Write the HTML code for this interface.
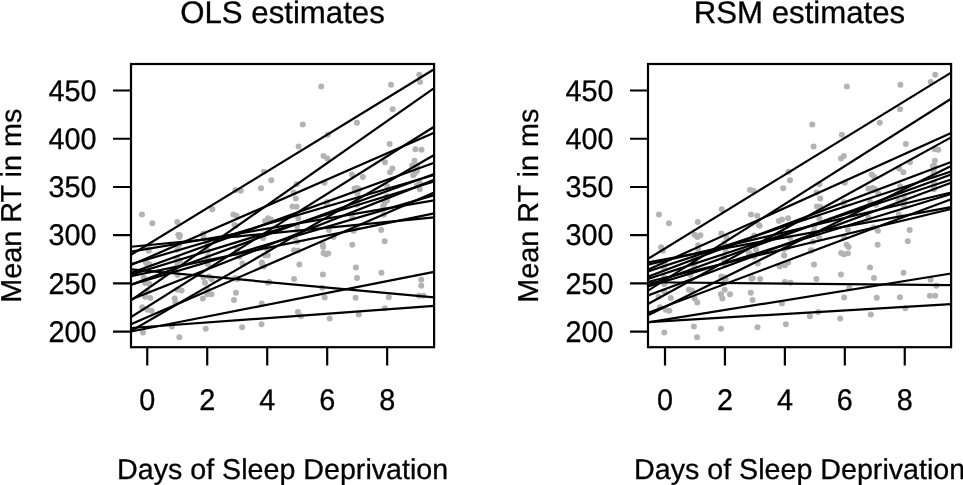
<!DOCTYPE html>
<html><head><meta charset="utf-8"><style>
html,body{margin:0;padding:0;background:#fff;width:963px;height:485px;overflow:hidden}
svg{display:block;font-family:"Liberation Sans",sans-serif;filter:grayscale(1)}
</style></head><body>
<svg width="963" height="485" viewBox="0 0 963 485" font-family="Liberation Sans, sans-serif" fill="#000" text-rendering="geometricPrecision"><style>text{stroke:#000;stroke-width:0.3px}</style><defs><clipPath id="clipL"><rect x="131.00" y="64.00" width="303.10" height="283.20"/></clipPath><clipPath id="clipR"><rect x="648.00" y="64.00" width="303.10" height="283.20"/></clipPath></defs>
<g fill="#b3b3b3">
<circle cx="149.49" cy="283.88" r="3"/>
<circle cx="177.62" cy="275.06" r="3"/>
<circle cx="205.03" cy="282.69" r="3"/>
<circle cx="233.29" cy="214.53" r="3"/>
<circle cx="271.24" cy="180.37" r="3"/>
<circle cx="302.76" cy="124.57" r="3"/>
<circle cx="323.52" cy="155.91" r="3"/>
<circle cx="352.26" cy="244.72" r="3"/>
<circle cx="392.64" cy="109.23" r="3"/>
<circle cx="419.22" cy="74.72" r="3"/>
<circle cx="147.30" cy="309.77" r="3"/>
<circle cx="171.84" cy="326.62" r="3"/>
<circle cx="205.75" cy="328.83" r="3"/>
<circle cx="242.06" cy="327.16" r="3"/>
<circle cx="261.51" cy="324.26" r="3"/>
<circle cx="301.02" cy="316.30" r="3"/>
<circle cx="329.67" cy="318.55" r="3"/>
<circle cx="358.76" cy="314.60" r="3"/>
<circle cx="384.73" cy="308.26" r="3"/>
<circle cx="419.07" cy="295.70" r="3"/>
<circle cx="142.99" cy="332.61" r="3"/>
<circle cx="179.36" cy="337.17" r="3"/>
<circle cx="202.88" cy="298.59" r="3"/>
<circle cx="233.97" cy="300.01" r="3"/>
<circle cx="261.75" cy="303.42" r="3"/>
<circle cx="297.91" cy="311.96" r="3"/>
<circle cx="324.69" cy="297.53" r="3"/>
<circle cx="357.02" cy="277.91" r="3"/>
<circle cx="381.41" cy="272.84" r="3"/>
<circle cx="421.25" cy="285.86" r="3"/>
<circle cx="141.97" cy="214.44" r="3"/>
<circle cx="178.34" cy="234.83" r="3"/>
<circle cx="208.03" cy="250.80" r="3"/>
<circle cx="237.18" cy="249.56" r="3"/>
<circle cx="267.14" cy="248.92" r="3"/>
<circle cx="294.73" cy="237.55" r="3"/>
<circle cx="325.83" cy="254.28" r="3"/>
<circle cx="352.26" cy="217.60" r="3"/>
<circle cx="381.14" cy="230.06" r="3"/>
<circle cx="419.97" cy="183.07" r="3"/>
<circle cx="147.30" cy="247.18" r="3"/>
<circle cx="177.26" cy="249.69" r="3"/>
<circle cx="203.30" cy="233.46" r="3"/>
<circle cx="236.46" cy="215.81" r="3"/>
<circle cx="270.80" cy="219.52" r="3"/>
<circle cx="297.10" cy="241.67" r="3"/>
<circle cx="322.87" cy="244.80" r="3"/>
<circle cx="357.02" cy="201.63" r="3"/>
<circle cx="384.73" cy="241.25" r="3"/>
<circle cx="416.94" cy="166.16" r="3"/>
<circle cx="150.21" cy="298.07" r="3"/>
<circle cx="181.66" cy="290.40" r="3"/>
<circle cx="207.22" cy="261.31" r="3"/>
<circle cx="235.89" cy="225.80" r="3"/>
<circle cx="267.92" cy="218.37" r="3"/>
<circle cx="297.10" cy="225.57" r="3"/>
<circle cx="321.22" cy="86.48" r="3"/>
<circle cx="357.02" cy="190.04" r="3"/>
<circle cx="383.29" cy="205.99" r="3"/>
<circle cx="421.25" cy="279.73" r="3"/>
<circle cx="148.77" cy="250.81" r="3"/>
<circle cx="179.06" cy="245.30" r="3"/>
<circle cx="207.22" cy="257.63" r="3"/>
<circle cx="237.18" cy="235.40" r="3"/>
<circle cx="263.22" cy="237.95" r="3"/>
<circle cx="295.78" cy="198.40" r="3"/>
<circle cx="327.06" cy="204.32" r="3"/>
<circle cx="357.02" cy="188.10" r="3"/>
<circle cx="384.64" cy="203.03" r="3"/>
<circle cx="413.19" cy="175.36" r="3"/>
<circle cx="147.30" cy="268.53" r="3"/>
<circle cx="177.26" cy="258.18" r="3"/>
<circle cx="207.22" cy="289.86" r="3"/>
<circle cx="237.18" cy="278.95" r="3"/>
<circle cx="265.22" cy="255.46" r="3"/>
<circle cx="298.06" cy="250.47" r="3"/>
<circle cx="328.92" cy="229.89" r="3"/>
<circle cx="357.02" cy="204.81" r="3"/>
<circle cx="386.20" cy="200.73" r="3"/>
<circle cx="414.57" cy="160.64" r="3"/>
<circle cx="147.30" cy="291.56" r="3"/>
<circle cx="177.26" cy="260.36" r="3"/>
<circle cx="211.53" cy="279.13" r="3"/>
<circle cx="242.42" cy="263.39" r="3"/>
<circle cx="269.24" cy="282.06" r="3"/>
<circle cx="294.04" cy="278.99" r="3"/>
<circle cx="322.21" cy="287.85" r="3"/>
<circle cx="355.58" cy="297.63" r="3"/>
<circle cx="388.78" cy="297.20" r="3"/>
<circle cx="423.41" cy="295.76" r="3"/>
<circle cx="152.36" cy="223.29" r="3"/>
<circle cx="177.32" cy="221.90" r="3"/>
<circle cx="207.22" cy="243.31" r="3"/>
<circle cx="240.81" cy="190.72" r="3"/>
<circle cx="263.87" cy="171.80" r="3"/>
<circle cx="298.60" cy="146.61" r="3"/>
<circle cx="327.84" cy="134.63" r="3"/>
<circle cx="356.93" cy="122.64" r="3"/>
<circle cx="390.99" cy="84.84" r="3"/>
<circle cx="420.06" cy="81.90" r="3"/>
<circle cx="145.14" cy="296.87" r="3"/>
<circle cx="175.46" cy="302.45" r="3"/>
<circle cx="211.53" cy="294.14" r="3"/>
<circle cx="237.18" cy="278.71" r="3"/>
<circle cx="267.92" cy="282.77" r="3"/>
<circle cx="299.41" cy="264.38" r="3"/>
<circle cx="323.55" cy="253.01" r="3"/>
<circle cx="357.02" cy="227.40" r="3"/>
<circle cx="386.98" cy="200.22" r="3"/>
<circle cx="416.94" cy="185.39" r="3"/>
<circle cx="143.70" cy="277.38" r="3"/>
<circle cx="177.62" cy="289.78" r="3"/>
<circle cx="203.42" cy="277.47" r="3"/>
<circle cx="235.35" cy="278.13" r="3"/>
<circle cx="262.56" cy="265.21" r="3"/>
<circle cx="292.46" cy="206.54" r="3"/>
<circle cx="327.36" cy="158.57" r="3"/>
<circle cx="351.96" cy="174.52" r="3"/>
<circle cx="389.65" cy="144.06" r="3"/>
<circle cx="415.41" cy="149.30" r="3"/>
<circle cx="145.14" cy="282.95" r="3"/>
<circle cx="179.78" cy="235.16" r="3"/>
<circle cx="207.91" cy="264.27" r="3"/>
<circle cx="237.18" cy="253.95" r="3"/>
<circle cx="261.87" cy="262.40" r="3"/>
<circle cx="297.10" cy="230.75" r="3"/>
<circle cx="323.14" cy="247.04" r="3"/>
<circle cx="355.88" cy="267.45" r="3"/>
<circle cx="384.01" cy="214.44" r="3"/>
<circle cx="419.76" cy="189.33" r="3"/>
<circle cx="151.64" cy="310.79" r="3"/>
<circle cx="179.36" cy="236.96" r="3"/>
<circle cx="212.37" cy="209.29" r="3"/>
<circle cx="235.44" cy="190.01" r="3"/>
<circle cx="261.00" cy="188.20" r="3"/>
<circle cx="296.62" cy="184.25" r="3"/>
<circle cx="324.51" cy="182.71" r="3"/>
<circle cx="362.83" cy="176.91" r="3"/>
<circle cx="385.00" cy="162.24" r="3"/>
<circle cx="421.55" cy="149.79" r="3"/>
<circle cx="145.86" cy="262.31" r="3"/>
<circle cx="177.26" cy="265.67" r="3"/>
<circle cx="209.08" cy="276.47" r="3"/>
<circle cx="239.49" cy="256.78" r="3"/>
<circle cx="265.04" cy="220.92" r="3"/>
<circle cx="298.27" cy="218.61" r="3"/>
<circle cx="333.59" cy="237.02" r="3"/>
<circle cx="354.53" cy="188.79" r="3"/>
<circle cx="386.98" cy="196.36" r="3"/>
<circle cx="416.94" cy="171.05" r="3"/>
<circle cx="142.27" cy="307.33" r="3"/>
<circle cx="174.74" cy="298.39" r="3"/>
<circle cx="207.22" cy="294.17" r="3"/>
<circle cx="235.95" cy="292.65" r="3"/>
<circle cx="263.87" cy="266.54" r="3"/>
<circle cx="293.62" cy="192.58" r="3"/>
<circle cx="328.23" cy="253.41" r="3"/>
<circle cx="359.00" cy="189.31" r="3"/>
<circle cx="390.07" cy="172.35" r="3"/>
<circle cx="412.18" cy="165.53" r="3"/>
<circle cx="149.49" cy="264.28" r="3"/>
<circle cx="177.26" cy="261.81" r="3"/>
<circle cx="207.91" cy="256.54" r="3"/>
<circle cx="237.18" cy="252.79" r="3"/>
<circle cx="267.92" cy="255.32" r="3"/>
<circle cx="294.04" cy="250.16" r="3"/>
<circle cx="322.87" cy="274.52" r="3"/>
<circle cx="353.69" cy="230.75" r="3"/>
<circle cx="387.25" cy="186.23" r="3"/>
<circle cx="416.94" cy="168.20" r="3"/>
<circle cx="147.30" cy="264.73" r="3"/>
<circle cx="179.78" cy="260.81" r="3"/>
<circle cx="203.59" cy="237.54" r="3"/>
<circle cx="234.45" cy="224.96" r="3"/>
<circle cx="267.14" cy="247.60" r="3"/>
<circle cx="296.62" cy="206.65" r="3"/>
<circle cx="327.06" cy="201.95" r="3"/>
<circle cx="357.44" cy="193.52" r="3"/>
<circle cx="392.43" cy="168.51" r="3"/>
<circle cx="414.75" cy="173.35" r="3"/>
</g>
<g stroke="#000" stroke-width="2.2" clip-path="url(#clipL)">
<line x1="131.00" y1="300.44" x2="434.10" y2="88.21"/>
<line x1="131.00" y1="328.01" x2="434.10" y2="305.95"/>
<line x1="131.00" y1="331.54" x2="434.10" y2="271.91"/>
<line x1="131.00" y1="246.74" x2="434.10" y2="217.41"/>
<line x1="131.00" y1="251.73" x2="434.10" y2="200.38"/>
<line x1="131.00" y1="274.71" x2="434.10" y2="181.43"/>
<line x1="131.00" y1="264.10" x2="434.10" y2="174.96"/>
<line x1="131.00" y1="299.36" x2="434.10" y2="179.88"/>
<line x1="131.00" y1="269.38" x2="434.10" y2="297.47"/>
<line x1="131.00" y1="254.71" x2="434.10" y2="69.19"/>
<line x1="131.00" y1="324.17" x2="434.10" y2="192.60"/>
<line x1="131.00" y1="316.97" x2="434.10" y2="126.79"/>
<line x1="131.00" y1="276.07" x2="434.10" y2="213.34"/>
<line x1="131.00" y1="265.11" x2="434.10" y2="132.82"/>
<line x1="131.00" y1="284.60" x2="434.10" y2="173.94"/>
<line x1="131.00" y1="331.06" x2="434.10" y2="154.99"/>
<line x1="131.00" y1="284.76" x2="434.10" y2="195.16"/>
<line x1="131.00" y1="272.92" x2="434.10" y2="162.75"/>
</g>
<rect x="131.00" y="64.00" width="303.10" height="283.20" fill="none" stroke="#000" stroke-width="2.2"/>
<path d="M131.00 331.70H113.00M131.00 283.46H113.00M131.00 235.22H113.00M131.00 186.98H113.00M131.00 138.74H113.00M131.00 90.50H113.00M147.25 347.20V365.60M207.23 347.20V365.60M267.21 347.20V365.60M327.19 347.20V365.60M387.17 347.20V365.60" stroke="#000" stroke-width="2.2" fill="none"/>
<text transform="translate(282.50 22.55) scale(1 1.000)" text-anchor="middle" font-size="31.20">OLS estimates</text>
<text transform="translate(96.50 341.75) scale(1 1.040)" text-anchor="end" font-size="28.80">200</text>
<text transform="translate(96.50 293.51) scale(1 1.040)" text-anchor="end" font-size="28.80">250</text>
<text transform="translate(96.50 245.27) scale(1 1.040)" text-anchor="end" font-size="28.80">300</text>
<text transform="translate(96.50 197.03) scale(1 1.040)" text-anchor="end" font-size="28.80">350</text>
<text transform="translate(96.50 148.79) scale(1 1.040)" text-anchor="end" font-size="28.80">400</text>
<text transform="translate(96.50 100.55) scale(1 1.040)" text-anchor="end" font-size="28.80">450</text>
<text transform="translate(147.25 410.30) scale(1 1.040)" text-anchor="middle" font-size="28.80">0</text>
<text transform="translate(207.23 410.30) scale(1 1.040)" text-anchor="middle" font-size="28.80">2</text>
<text transform="translate(267.21 410.30) scale(1 1.040)" text-anchor="middle" font-size="28.80">4</text>
<text transform="translate(327.19 410.30) scale(1 1.040)" text-anchor="middle" font-size="28.80">6</text>
<text transform="translate(387.17 410.30) scale(1 1.040)" text-anchor="middle" font-size="28.80">8</text>
<text transform="translate(282.60 478.70) scale(1 1.000)" text-anchor="middle" font-size="28.65">Days of Sleep Deprivation</text>
<text transform="translate(20.90 205.70) rotate(-90) scale(1 1.000)" text-anchor="middle" font-size="28.80">Mean RT in ms</text>
<g fill="#b3b3b3">
<circle cx="664.30" cy="283.88" r="3"/>
<circle cx="690.28" cy="275.06" r="3"/>
<circle cx="724.22" cy="282.69" r="3"/>
<circle cx="751.00" cy="214.53" r="3"/>
<circle cx="789.98" cy="180.37" r="3"/>
<circle cx="812.27" cy="124.57" r="3"/>
<circle cx="843.85" cy="155.91" r="3"/>
<circle cx="877.65" cy="244.72" r="3"/>
<circle cx="900.03" cy="109.23" r="3"/>
<circle cx="935.23" cy="74.72" r="3"/>
<circle cx="665.77" cy="309.77" r="3"/>
<circle cx="693.90" cy="326.62" r="3"/>
<circle cx="721.01" cy="328.83" r="3"/>
<circle cx="757.57" cy="327.16" r="3"/>
<circle cx="785.88" cy="324.26" r="3"/>
<circle cx="809.91" cy="316.30" r="3"/>
<circle cx="840.20" cy="318.55" r="3"/>
<circle cx="870.84" cy="314.60" r="3"/>
<circle cx="905.33" cy="308.26" r="3"/>
<circle cx="929.87" cy="295.70" r="3"/>
<circle cx="664.33" cy="332.61" r="3"/>
<circle cx="697.08" cy="337.17" r="3"/>
<circle cx="722.33" cy="298.59" r="3"/>
<circle cx="752.59" cy="300.01" r="3"/>
<circle cx="781.86" cy="303.42" r="3"/>
<circle cx="818.26" cy="311.96" r="3"/>
<circle cx="844.18" cy="297.53" r="3"/>
<circle cx="874.02" cy="277.91" r="3"/>
<circle cx="903.47" cy="272.84" r="3"/>
<circle cx="936.37" cy="285.86" r="3"/>
<circle cx="658.97" cy="214.44" r="3"/>
<circle cx="694.62" cy="234.83" r="3"/>
<circle cx="725.66" cy="250.80" r="3"/>
<circle cx="756.07" cy="249.56" r="3"/>
<circle cx="784.14" cy="248.92" r="3"/>
<circle cx="819.10" cy="237.55" r="3"/>
<circle cx="843.91" cy="254.28" r="3"/>
<circle cx="868.54" cy="217.60" r="3"/>
<circle cx="909.67" cy="230.06" r="3"/>
<circle cx="933.94" cy="183.07" r="3"/>
<circle cx="661.15" cy="247.18" r="3"/>
<circle cx="698.21" cy="249.69" r="3"/>
<circle cx="721.31" cy="233.46" r="3"/>
<circle cx="757.21" cy="215.81" r="3"/>
<circle cx="782.04" cy="219.52" r="3"/>
<circle cx="813.05" cy="241.67" r="3"/>
<circle cx="846.58" cy="244.80" r="3"/>
<circle cx="870.10" cy="201.63" r="3"/>
<circle cx="907.78" cy="241.25" r="3"/>
<circle cx="932.98" cy="166.16" r="3"/>
<circle cx="670.80" cy="298.07" r="3"/>
<circle cx="692.01" cy="290.40" r="3"/>
<circle cx="724.22" cy="261.31" r="3"/>
<circle cx="759.66" cy="225.80" r="3"/>
<circle cx="788.09" cy="218.37" r="3"/>
<circle cx="814.10" cy="225.57" r="3"/>
<circle cx="846.85" cy="86.48" r="3"/>
<circle cx="874.02" cy="190.04" r="3"/>
<circle cx="903.98" cy="205.99" r="3"/>
<circle cx="930.58" cy="279.73" r="3"/>
<circle cx="662.86" cy="250.81" r="3"/>
<circle cx="698.21" cy="245.30" r="3"/>
<circle cx="724.22" cy="257.63" r="3"/>
<circle cx="754.18" cy="235.40" r="3"/>
<circle cx="790.28" cy="237.95" r="3"/>
<circle cx="820.27" cy="198.40" r="3"/>
<circle cx="844.06" cy="204.32" r="3"/>
<circle cx="872.61" cy="188.10" r="3"/>
<circle cx="903.98" cy="203.03" r="3"/>
<circle cx="933.94" cy="175.36" r="3"/>
<circle cx="664.30" cy="268.53" r="3"/>
<circle cx="694.26" cy="258.18" r="3"/>
<circle cx="724.64" cy="289.86" r="3"/>
<circle cx="760.11" cy="278.95" r="3"/>
<circle cx="784.14" cy="255.46" r="3"/>
<circle cx="811.04" cy="250.47" r="3"/>
<circle cx="847.92" cy="229.89" r="3"/>
<circle cx="875.91" cy="204.81" r="3"/>
<circle cx="898.35" cy="200.73" r="3"/>
<circle cx="934.90" cy="160.64" r="3"/>
<circle cx="664.30" cy="291.56" r="3"/>
<circle cx="694.26" cy="260.36" r="3"/>
<circle cx="725.66" cy="279.13" r="3"/>
<circle cx="757.84" cy="263.39" r="3"/>
<circle cx="784.92" cy="282.06" r="3"/>
<circle cx="816.41" cy="278.99" r="3"/>
<circle cx="849.27" cy="287.85" r="3"/>
<circle cx="876.78" cy="297.63" r="3"/>
<circle cx="899.85" cy="297.20" r="3"/>
<circle cx="935.20" cy="295.76" r="3"/>
<circle cx="668.94" cy="223.29" r="3"/>
<circle cx="697.80" cy="221.90" r="3"/>
<circle cx="724.22" cy="243.31" r="3"/>
<circle cx="753.46" cy="190.72" r="3"/>
<circle cx="788.54" cy="171.80" r="3"/>
<circle cx="813.62" cy="146.61" r="3"/>
<circle cx="841.87" cy="134.63" r="3"/>
<circle cx="879.74" cy="122.64" r="3"/>
<circle cx="900.35" cy="84.84" r="3"/>
<circle cx="930.73" cy="81.90" r="3"/>
<circle cx="658.55" cy="296.87" r="3"/>
<circle cx="697.23" cy="302.45" r="3"/>
<circle cx="720.89" cy="294.14" r="3"/>
<circle cx="751.39" cy="278.71" r="3"/>
<circle cx="790.52" cy="282.77" r="3"/>
<circle cx="814.01" cy="264.38" r="3"/>
<circle cx="841.21" cy="253.01" r="3"/>
<circle cx="873.60" cy="227.40" r="3"/>
<circle cx="904.16" cy="200.22" r="3"/>
<circle cx="933.94" cy="185.39" r="3"/>
<circle cx="664.30" cy="277.38" r="3"/>
<circle cx="688.84" cy="289.78" r="3"/>
<circle cx="724.22" cy="277.47" r="3"/>
<circle cx="752.71" cy="278.13" r="3"/>
<circle cx="784.92" cy="265.21" r="3"/>
<circle cx="816.95" cy="206.54" r="3"/>
<circle cx="841.03" cy="158.57" r="3"/>
<circle cx="871.77" cy="174.52" r="3"/>
<circle cx="905.84" cy="144.06" r="3"/>
<circle cx="934.90" cy="149.30" r="3"/>
<circle cx="664.30" cy="282.95" r="3"/>
<circle cx="700.40" cy="235.16" r="3"/>
<circle cx="724.22" cy="264.27" r="3"/>
<circle cx="750.05" cy="253.95" r="3"/>
<circle cx="788.24" cy="262.40" r="3"/>
<circle cx="814.10" cy="230.75" r="3"/>
<circle cx="848.58" cy="247.04" r="3"/>
<circle cx="869.98" cy="267.45" r="3"/>
<circle cx="898.86" cy="214.44" r="3"/>
<circle cx="933.94" cy="189.33" r="3"/>
<circle cx="669.36" cy="310.79" r="3"/>
<circle cx="697.23" cy="236.96" r="3"/>
<circle cx="721.73" cy="209.29" r="3"/>
<circle cx="750.02" cy="190.01" r="3"/>
<circle cx="783.18" cy="188.20" r="3"/>
<circle cx="819.43" cy="184.25" r="3"/>
<circle cx="844.84" cy="182.71" r="3"/>
<circle cx="874.26" cy="176.91" r="3"/>
<circle cx="909.97" cy="162.24" r="3"/>
<circle cx="938.22" cy="149.79" r="3"/>
<circle cx="664.30" cy="262.31" r="3"/>
<circle cx="694.26" cy="265.67" r="3"/>
<circle cx="721.31" cy="276.47" r="3"/>
<circle cx="754.18" cy="256.78" r="3"/>
<circle cx="778.87" cy="220.92" r="3"/>
<circle cx="819.43" cy="218.61" r="3"/>
<circle cx="844.06" cy="237.02" r="3"/>
<circle cx="868.45" cy="188.79" r="3"/>
<circle cx="903.98" cy="196.36" r="3"/>
<circle cx="933.49" cy="171.05" r="3"/>
<circle cx="659.99" cy="307.33" r="3"/>
<circle cx="694.62" cy="298.39" r="3"/>
<circle cx="729.97" cy="294.17" r="3"/>
<circle cx="750.73" cy="292.65" r="3"/>
<circle cx="779.56" cy="266.54" r="3"/>
<circle cx="816.62" cy="192.58" r="3"/>
<circle cx="847.92" cy="253.41" r="3"/>
<circle cx="875.10" cy="189.31" r="3"/>
<circle cx="903.32" cy="172.35" r="3"/>
<circle cx="934.06" cy="165.53" r="3"/>
<circle cx="664.30" cy="264.28" r="3"/>
<circle cx="694.26" cy="261.81" r="3"/>
<circle cx="724.22" cy="256.54" r="3"/>
<circle cx="748.70" cy="252.79" r="3"/>
<circle cx="784.23" cy="255.32" r="3"/>
<circle cx="811.04" cy="250.16" r="3"/>
<circle cx="840.94" cy="274.52" r="3"/>
<circle cx="877.91" cy="230.75" r="3"/>
<circle cx="900.03" cy="186.23" r="3"/>
<circle cx="933.94" cy="168.20" r="3"/>
<circle cx="664.30" cy="264.73" r="3"/>
<circle cx="694.26" cy="260.81" r="3"/>
<circle cx="726.38" cy="237.54" r="3"/>
<circle cx="758.94" cy="224.96" r="3"/>
<circle cx="787.59" cy="247.60" r="3"/>
<circle cx="820.27" cy="206.65" r="3"/>
<circle cx="844.06" cy="201.95" r="3"/>
<circle cx="878.42" cy="193.52" r="3"/>
<circle cx="899.19" cy="168.51" r="3"/>
<circle cx="933.94" cy="173.35" r="3"/>
</g>
<g stroke="#000" stroke-width="2.2" clip-path="url(#clipR)">
<line x1="648.00" y1="290.69" x2="951.10" y2="98.80"/>
<line x1="648.00" y1="322.09" x2="951.10" y2="304.06"/>
<line x1="648.00" y1="322.44" x2="951.10" y2="273.47"/>
<line x1="648.00" y1="262.34" x2="951.10" y2="207.18"/>
<line x1="648.00" y1="264.68" x2="951.10" y2="192.50"/>
<line x1="648.00" y1="278.96" x2="951.10" y2="179.48"/>
<line x1="648.00" y1="271.46" x2="951.10" y2="171.51"/>
<line x1="648.00" y1="295.40" x2="951.10" y2="182.78"/>
<line x1="648.00" y1="282.27" x2="951.10" y2="285.05"/>
<line x1="648.00" y1="258.89" x2="951.10" y2="72.57"/>
<line x1="648.00" y1="312.80" x2="951.10" y2="199.21"/>
<line x1="648.00" y1="304.06" x2="951.10" y2="137.39"/>
<line x1="648.00" y1="281.77" x2="951.10" y2="209.05"/>
<line x1="648.00" y1="269.64" x2="951.10" y2="133.00"/>
<line x1="648.00" y1="285.15" x2="951.10" y2="174.51"/>
<line x1="648.00" y1="315.18" x2="951.10" y2="165.99"/>
<line x1="648.00" y1="286.51" x2="951.10" y2="194.02"/>
<line x1="648.00" y1="276.65" x2="951.10" y2="161.99"/>
</g>
<rect x="648.00" y="64.00" width="303.10" height="283.20" fill="none" stroke="#000" stroke-width="2.2"/>
<path d="M648.00 331.70H630.00M648.00 283.46H630.00M648.00 235.22H630.00M648.00 186.98H630.00M648.00 138.74H630.00M648.00 90.50H630.00M665.00 347.20V365.60M724.94 347.20V365.60M784.88 347.20V365.60M844.82 347.20V365.60M904.76 347.20V365.60" stroke="#000" stroke-width="2.2" fill="none"/>
<text transform="translate(799.50 22.55) scale(1 1.000)" text-anchor="middle" font-size="31.20">RSM estimates</text>
<text transform="translate(613.50 341.75) scale(1 1.040)" text-anchor="end" font-size="28.80">200</text>
<text transform="translate(613.50 293.51) scale(1 1.040)" text-anchor="end" font-size="28.80">250</text>
<text transform="translate(613.50 245.27) scale(1 1.040)" text-anchor="end" font-size="28.80">300</text>
<text transform="translate(613.50 197.03) scale(1 1.040)" text-anchor="end" font-size="28.80">350</text>
<text transform="translate(613.50 148.79) scale(1 1.040)" text-anchor="end" font-size="28.80">400</text>
<text transform="translate(613.50 100.55) scale(1 1.040)" text-anchor="end" font-size="28.80">450</text>
<text transform="translate(665.00 410.30) scale(1 1.040)" text-anchor="middle" font-size="28.80">0</text>
<text transform="translate(724.94 410.30) scale(1 1.040)" text-anchor="middle" font-size="28.80">2</text>
<text transform="translate(784.88 410.30) scale(1 1.040)" text-anchor="middle" font-size="28.80">4</text>
<text transform="translate(844.82 410.30) scale(1 1.040)" text-anchor="middle" font-size="28.80">6</text>
<text transform="translate(904.76 410.30) scale(1 1.040)" text-anchor="middle" font-size="28.80">8</text>
<text transform="translate(799.60 478.70) scale(1 1.000)" text-anchor="middle" font-size="28.65">Days of Sleep Deprivation</text>
<text transform="translate(537.90 205.70) rotate(-90) scale(1 1.000)" text-anchor="middle" font-size="28.80">Mean RT in ms</text>
</svg>
</body></html>
